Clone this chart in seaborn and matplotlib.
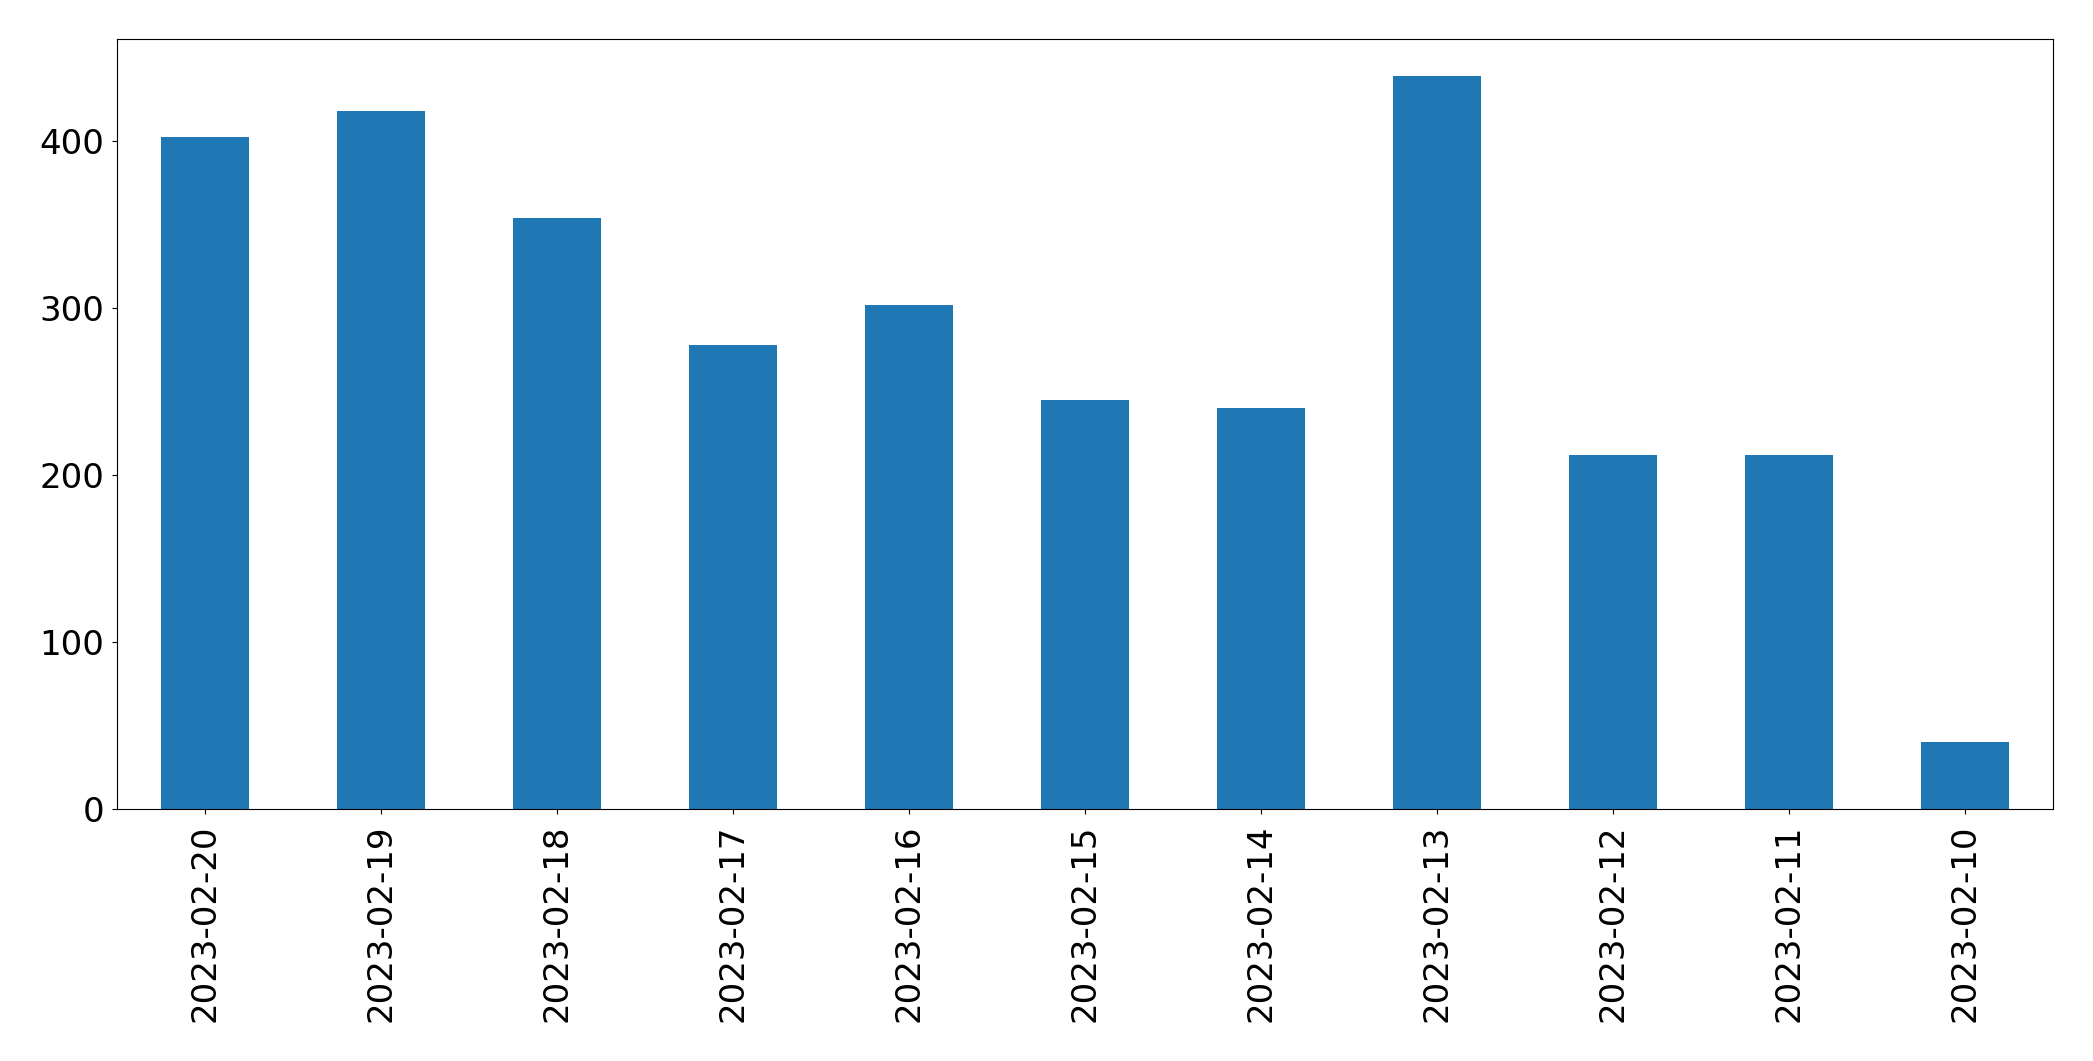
import matplotlib
matplotlib.use("Agg")
import matplotlib.pyplot as plt
import seaborn as sns
import pandas as pd

dates = ["2023-02-20", "2023-02-19", "2023-02-18", "2023-02-17", "2023-02-16",
         "2023-02-15", "2023-02-14", "2023-02-13", "2023-02-12", "2023-02-11",
         "2023-02-10"]
counts = [402, 418, 354, 278, 302, 245, 240, 439, 212, 212, 40]

df = pd.DataFrame({"date": dates, "count": counts})

fig = plt.figure(figsize=(20.93, 10.61), dpi=100)
ax = fig.add_axes([116.5 / 2093, 1 - 809 / 1061, (2053 - 116.5) / 2093, (809 - 39) / 1061])
sns.barplot(data=df, x="date", y="count", order=dates, color="#1f77b4",
            saturation=1, width=0.5, ax=ax)
ax.set_xlim(-0.5, len(dates) - 0.5)
ax.set_ylim(0, max(counts) * 1.05)
ax.set_xlabel("")
ax.set_ylabel("")
ax.set_yticks([0, 100, 200, 300, 400])
ax.tick_params(axis="both", labelsize=24.5)
ax.tick_params(axis="x", labelrotation=90, pad=8)
ax.tick_params(axis="y", pad=5.5)
fig.savefig("out.png", dpi=100)
